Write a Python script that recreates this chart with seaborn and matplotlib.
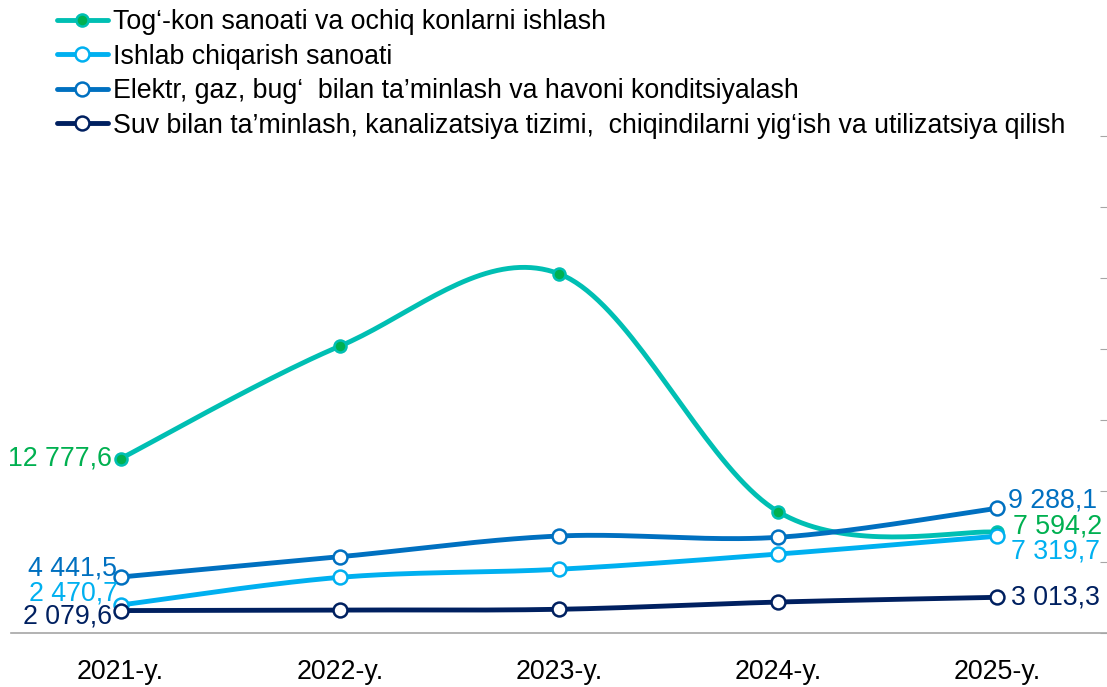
import numpy as np
import pandas as pd
import matplotlib
matplotlib.use("Agg")
import matplotlib.pyplot as plt
from matplotlib.lines import Line2D
import seaborn as sns

# Chart data
years = ["2021-y.", "2022-y.", "2023-y.", "2024-y.", "2025-y."]

names = [
    "Tog\u2018-kon sanoati va ochiq konlarni ishlash",
    "Ishlab chiqarish sanoati",
    "Elektr, gaz, bug\u2018  bilan ta\u2019minlash va havoni konditsiyalash",
    "Suv bilan ta\u2019minlash, kanalizatsiya tizimi,  chiqindilarni yig\u2018ish va utilizatsiya qilish",
]

togkon = [12777.6, 20700, 25800, 9040, 7594.2]
ishlab = [2470.7, 4420, 4990, 6060, 7319.7]
elektr = [4441.5, 5870, 7330, 7240, 9288.1]
suv = [2079.6, 2120, 2170, 2680, 3013.3]

first_labels = ["12 777,6", "2 470,7", "4 441,5", "2 079,6"]
last_labels = ["7 594,2", "7 319,7", "9 288,1", "3 013,3"]

line_colors = ["#00BFB3", "#00B0F0", "#0070C0", "#002060"]
face_colors = ["#00B050", "white", "white", "white"]
label_colors = ["#00B050", "#00B0F0", "#0070C0", "#002060"]

FS = 19.3


def smooth(vals, n=40):
    # Excel-like smoothed line (Bezier through the points)
    pts = np.column_stack([np.arange(len(vals), dtype=float), np.asarray(vals, float)])
    ext = np.vstack([pts[0], pts, pts[-1]])
    t = np.linspace(0, 1, n)[:, None]
    out = []
    for i in range(len(pts) - 1):
        p0, p1, p2, p3 = ext[i], ext[i + 1], ext[i + 2], ext[i + 3]
        c1 = p1 + (p2 - p0) / 6
        c2 = p2 - (p3 - p1) / 6
        seg = (1 - t) ** 3 * p1 + 3 * (1 - t) ** 2 * t * c1 + 3 * (1 - t) * t ** 2 * c2 + t ** 3 * p2
        out.append(seg if i == 0 else seg[1:])
    return np.vstack(out)


sns.set_style("white")
plt.rcParams["font.family"] = ["Liberation Sans", "DejaVu Sans"]
plt.rcParams["text.color"] = "black"
plt.rcParams["xtick.color"] = "black"

fig = plt.figure(figsize=(11.07, 6.87), dpi=100)
ax = fig.add_axes([11 / 1107, 54 / 687, 1096 / 1107, 497 / 687])

all_series = [togkon, ishlab, elektr, suv]
x = np.arange(len(years))

for i, vals in enumerate(all_series):
    curve = pd.DataFrame(smooth(vals), columns=["x", "y"])
    sns.lineplot(data=curve, x="x", y="y", sort=False, estimator=None,
                 color=line_colors[i], linewidth=3.5, ax=ax, zorder=2 + i)
    ms = 75 if i == 0 else 100
    sns.scatterplot(x=x, y=vals, s=ms, color=face_colors[i], edgecolor=line_colors[i],
                    linewidth=1.8, ax=ax, zorder=2.5 + i)

# data labels on first and last points
first_off = [(-9, 0), (-3, 12), (-4, 9), (-9, -6)]
last_off = [(16, 6), (14, -15), (11, 8), (14, 0)]
for i, vals in enumerate(all_series):
    ax.annotate(first_labels[i], (0, vals[0]), xytext=first_off[i], textcoords="offset pixels",
                ha="right", va="center", fontsize=FS, color=label_colors[i], zorder=10)
    ax.annotate(last_labels[i], (4, vals[-1]), xytext=last_off[i], textcoords="offset pixels",
                ha="left", va="center", fontsize=FS, color=label_colors[i], zorder=10)

ax.set_xlim(-0.5, 4.48)
ax.set_ylim(500, 35500)
ax.set_xticks(x)
ax.set_xticklabels(years, fontsize=FS)
ax.set_xticks(np.arange(-0.5, 5, 1), minor=True)
ax.tick_params(axis="x", which="major", length=0, pad=19)
ax.tick_params(axis="x", which="minor", length=7, color="#A6A6A6", direction="out")
ax.yaxis.tick_right()
ax.set_yticks(np.arange(500, 36000, 5000))
ax.tick_params(axis="y", length=5, direction="in", color="#A6A6A6", labelright=False)
ax.set_xlabel("")
ax.set_ylabel("")
for s in ["top", "left", "right"]:
    ax.spines[s].set_visible(False)
ax.spines["bottom"].set_color("#A6A6A6")
ax.spines["bottom"].set_linewidth(1.2)

# legend
handles = [Line2D([0], [0], color=line_colors[i], linewidth=3.5, marker="o",
                  markersize=8.7 if i == 0 else 10, markerfacecolor=face_colors[i],
                  markeredgecolor=line_colors[i], markeredgewidth=1.8) for i in range(4)]
fig.legend(handles, names, loc="upper left", bbox_to_anchor=(57 / 1107, 1 - 9 / 687),
           frameon=False, fontsize=FS, handlelength=1.9, handletextpad=0.2,
           labelspacing=0.32, borderpad=0, borderaxespad=0)

plt.savefig("out.png", dpi=100)
